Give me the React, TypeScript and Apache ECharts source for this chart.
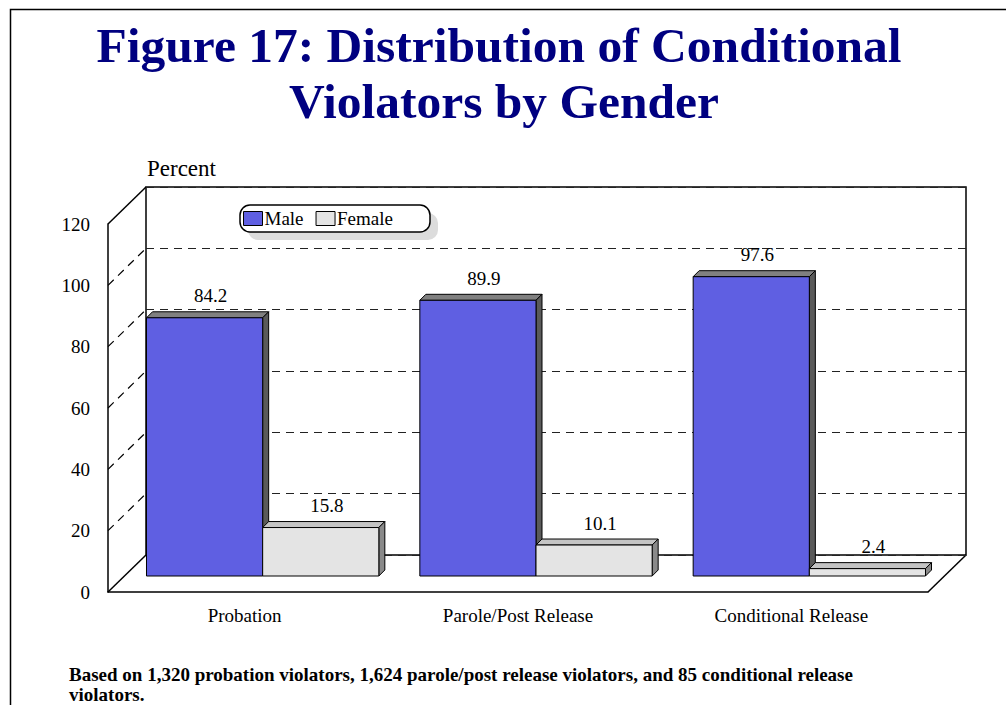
import React, { useEffect, useRef } from "react";
import * as echarts from "echarts";

const categories = ["Probation", "Parole/Post Release", "Conditional Release"];
const maleValues = [84.2, 89.9, 97.6];
const femaleValues = [15.8, 10.1, 2.4];
const seriesNames = ["Male", "Female"];
const yMin = 0;
const yMax = 120;
const yInterval = 20;
const wallTicks = [20, 40, 60, 80, 100];
const titleLines = ["Figure 17: Distribution of Conditional", "Violators by Gender"];
const yAxisName = "Percent";
const footnoteLines = [
  "Based on 1,320 probation violators, 1,624 parole/post release violators, and 85 conditional release",
  "violators.",
];

const FONT = "Liberation Serif, Times New Roman, serif";

// layout
const FRONT = { left: 108, top: 224, width: 820, height: 368 };
const DEPTH = { dx: 38, dy: -37 };
const BARPOS = { dx: 18, dy: -16 };
const BAR3D = 6;

const maleColors = { front: "#5f5fe2", top: "#808080", side: "#5a5a5a" };
const femaleColors = { front: "#e4e4e4", top: "#c4c4c4", side: "#8a8a8a" };

function makeBarRender(which: number, colors: any) {
  return (params: any, api: any) => {
    const idx = api.value(0);
    const val = api.value(1);
    const base = api.coord([idx, 0]);
    const top = api.coord([idx, val]);
    const band = api.size([1, 0])[0];
    const bw = band * 0.425;
    const x0 = which === 0 ? base[0] - bw : base[0];
    const x1 = x0 + bw;
    const yT = top[1];
    const yB = base[1];
    const d = BAR3D;
    return {
      type: "group",
      children: [
        {
          type: "polygon",
          shape: { points: [[x0, yT], [x0 + d, yT - d], [x1 + d, yT - d], [x1, yT]] },
          style: { fill: colors.top, stroke: "#000", lineWidth: 1 },
        },
        {
          type: "polygon",
          shape: { points: [[x1, yT], [x1 + d, yT - d], [x1 + d, yB - d], [x1, yB]] },
          style: { fill: colors.side, stroke: "#000", lineWidth: 1 },
        },
        {
          type: "rect",
          shape: { x: x0, y: yT, width: bw, height: yB - yT },
          style: { fill: colors.front, stroke: "#000", lineWidth: 1 },
        },
        {
          type: "text",
          style: {
            text: String(val),
            x: (x0 + x1) / 2 + d,
            y: yT - 22,
            align: "center",
            verticalAlign: "middle",
            fontFamily: FONT,
            fontSize: 19,
            fill: "#000",
          },
        },
      ],
    };
  };
}

export default function App() {
  const ref = useRef<HTMLDivElement>(null);
  useEffect(() => {
    if (!ref.current) return;
    const chart = echarts.init(ref.current, null, { renderer: "svg" });
    const back = {
      left: FRONT.left + DEPTH.dx,
      top: FRONT.top + DEPTH.dy,
      width: FRONT.width,
      height: FRONT.height,
    };
    const barGrid = {
      left: FRONT.left + BARPOS.dx,
      top: FRONT.top + BARPOS.dy,
      width: FRONT.width,
      height: FRONT.height,
    };
    const fBottom = FRONT.top + FRONT.height;
    const fRight = FRONT.left + FRONT.width;
    const txt = (text: string, x: number, y: number, size: number, bold: boolean, fill: string, align: string) => ({
      type: "text",
      style: { text, x, y, align, verticalAlign: "middle", fontFamily: FONT, fontSize: size, fontWeight: bold ? "bold" : "normal", fill },
    });
    const option: any = {
      animation: false,
      backgroundColor: "#fff",
      textStyle: { fontFamily: FONT },
      grid: [
        { ...back, show: true, borderColor: "#000", borderWidth: 1.5, backgroundColor: "transparent", z: 0 },
        { ...barGrid },
        { ...FRONT },
      ],
      xAxis: [
        { gridIndex: 0, type: "category", data: categories, show: false },
        { gridIndex: 1, type: "category", data: categories, show: false },
        {
          gridIndex: 2,
          type: "category",
          data: categories,
          axisLine: { show: true, lineStyle: { color: "#000", width: 1.5 } },
          axisTick: { show: false },
          axisLabel: { color: "#000", fontFamily: FONT, fontSize: 19, margin: 14 },
        },
      ],
      yAxis: [
        {
          gridIndex: 0,
          type: "value",
          min: yMin,
          max: yMax,
          interval: yInterval,
          axisLine: { show: false },
          axisTick: { show: false },
          axisLabel: { show: false },
          splitLine: { show: true, lineStyle: { color: "#222", width: 1, type: [8, 6] } },
        },
        { gridIndex: 1, type: "value", min: yMin, max: yMax, interval: yInterval, show: false, splitLine: { show: false } },
        {
          gridIndex: 2,
          type: "value",
          min: yMin,
          max: yMax,
          interval: yInterval,
          axisLine: { show: true, lineStyle: { color: "#000", width: 1.5 } },
          axisTick: { show: false },
          splitLine: { show: false },
          axisLabel: { color: "#000", fontFamily: FONT, fontSize: 19, margin: 18 },
        },
      ],
      legend: {
        data: seriesNames,
        left: 243,
        top: 209,
        padding: 0,
        itemWidth: 19,
        itemHeight: 14,
        itemGap: 12,
        icon: "rect",
        itemStyle: { borderColor: "#000", borderWidth: 1 },
        textStyle: { color: "#000", fontFamily: FONT, fontSize: 19, padding: [0, 0, 0, -3] },
        z: 10,
      },
      graphic: [
        { type: "rect", shape: { x: 10.5, y: 9.5, width: 2000, height: 2000 }, style: { fill: "none", stroke: "#000", lineWidth: 1.5 }, z: 0 },
        txt(titleLines[0], 499, 45, 49.5, true, "#000080", "center"),
        txt(titleLines[1], 504, 101, 49.5, true, "#000080", "center"),
        txt(yAxisName, 147, 168, 23, false, "#000", "left"),
        txt(footnoteLines[0], 69, 674, 19, true, "#000", "left"),
        txt(footnoteLines[1], 69, 694, 19, true, "#000", "left"),
        // left wall top edge and floor edges
        { type: "line", shape: { x1: FRONT.left, y1: FRONT.top, x2: back.left, y2: back.top }, style: { stroke: "#000", lineWidth: 1.5 } },
        { type: "line", shape: { x1: FRONT.left, y1: fBottom, x2: back.left, y2: fBottom + DEPTH.dy }, style: { stroke: "#000", lineWidth: 1.5 } },
        { type: "line", shape: { x1: fRight, y1: fBottom, x2: fRight + DEPTH.dx, y2: fBottom + DEPTH.dy }, style: { stroke: "#000", lineWidth: 1.5 } },
        // legend box
        { type: "rect", shape: { x: 248, y: 213, width: 190, height: 27, r: 10 }, style: { fill: "#dcdcdc" }, z: 5 },
        { type: "rect", shape: { x: 240, y: 205, width: 190, height: 27, r: 10 }, style: { fill: "#fff", stroke: "#000", lineWidth: 1.5 }, z: 6 },
      ],
      series: [
        {
          type: "custom",
          name: "wall",
          xAxisIndex: 2,
          yAxisIndex: 2,
          data: wallTicks.map((v) => [0, v]),
          silent: true,
          renderItem: (params: any, api: any) => {
            const p = api.coord([0, api.value(1)]);
            const x = params.coordSys.x;
            return {
              type: "line",
              shape: { x1: x, y1: p[1], x2: x + DEPTH.dx, y2: p[1] + DEPTH.dy },
              style: { stroke: "#000", lineWidth: 1.2, lineDash: [8, 6] },
            };
          },
          z: 1,
        },
        {
          type: "custom",
          name: seriesNames[0],
          xAxisIndex: 1,
          yAxisIndex: 1,
          data: maleValues.map((v, i) => [i, v]),
          itemStyle: { color: maleColors.front },
          renderItem: makeBarRender(0, maleColors),
          z: 3,
        },
        {
          type: "custom",
          name: seriesNames[1],
          xAxisIndex: 1,
          yAxisIndex: 1,
          data: femaleValues.map((v, i) => [i, v]),
          itemStyle: { color: femaleColors.front },
          renderItem: makeBarRender(1, femaleColors),
          z: 3,
        },
      ],
    };
    chart.setOption(option);
    return () => chart.dispose();
  }, []);
  return (
    <div
      ref={ref}
      style={{ position: "fixed", left: 0, top: 0, width: 1006, height: 705 }}
    />
  );
}
